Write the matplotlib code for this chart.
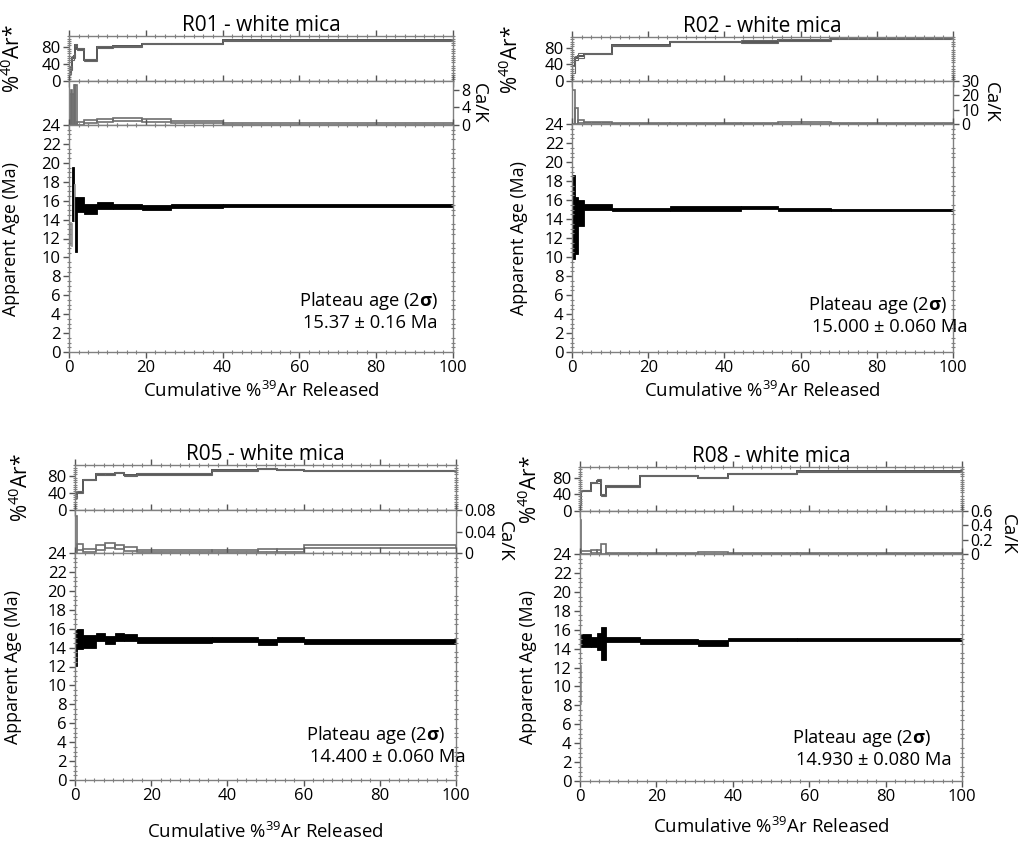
import numpy as np
import matplotlib
matplotlib.use('Agg')
import matplotlib.pyplot as plt
from matplotlib.ticker import MultipleLocator

plt.rcParams['font.family'] = ['Open Sans', 'DejaVu Sans']
plt.rcParams['mathtext.fontset'] = 'custom'
plt.rcParams['mathtext.rm'] = 'Open Sans'
plt.rcParams['mathtext.it'] = 'Open Sans:italic'
plt.rcParams['mathtext.bf'] = 'Open Sans:bold'

# ---- data: step edges (cumulative %39Ar), apparent ages, %40Ar*, Ca/K ----
r01_edges = [0, 0.4, 0.8, 1.2, 1.6, 2.2, 3.9, 7.3, 11.5, 19, 26.5, 40, 100]
r01_age = [12.5, 12.4, 16.7, 15.8, 13.5, 15.6, 15.1, 15.5, 15.35, 15.3, 15.45, 15.5]
r01_age_err = [1.2, 1.2, 2.9, 2.0, 2.9, 0.8, 0.55, 0.4, 0.25, 0.25, 0.2, 0.18]
r01_plat = [0, 0, 1, 0, 1, 1, 1, 1, 1, 1, 1, 1]
r01_ar = [20, 30, 55, 60, 85, 75, 50, 80, 82, 88, 88, 96]
r01_ar_err = [3, 5, 5, 5, 3, 2, 2, 1.5, 1.5, 1.5, 1.5, 1.5]
r01_cak = [3.5, 4.0, 3.5, 4.5, 4.6, 0.4, 0.8, 1.0, 1.2, 1.0, 0.7, 0.2]
r01_cak_err = [3.5, 4.0, 3.5, 4.5, 4.6, 0.3, 0.4, 0.4, 0.4, 0.3, 0.3, 0.15]

r02_edges = [0, 0.9, 1.6, 3.1, 10.5, 25.6, 44.3, 54, 68, 100]
r02_age = [14.2, 13.3, 14.6, 15.25, 15.0, 15.1, 15.2, 15.0, 14.95]
r02_age_err = [4.4, 3.0, 1.35, 0.35, 0.2, 0.22, 0.15, 0.15, 0.12]
r02_plat = [1, 1, 1, 1, 1, 1, 1, 1, 1]
r02_ar = [35, 55, 61, 66, 86, 94.5, 95, 99, 102]
r02_ar_err = [15, 5, 6, 1.5, 1.5, 1.5, 3, 1.5, 1.5]
r02_cak = [12, 5.5, 1.5, 1.0, 0.4, 0.4, 0.4, 0.8, 0.3]
r02_cak_err = [12, 5.5, 1.0, 0.5, 0.3, 0.3, 0.3, 0.6, 0.3]

r05_edges = [0, 0.5, 2.2, 5.6, 8.0, 10.6, 12.9, 16.3, 36, 48, 53, 60, 100]
r05_age = [14.0, 14.9, 14.65, 15.1, 14.8, 15.1, 15.05, 14.8, 14.85, 14.6, 14.85, 14.65]
r05_age_err = [1.9, 1.1, 0.65, 0.4, 0.4, 0.4, 0.35, 0.33, 0.3, 0.3, 0.3, 0.25]
r05_plat = [1, 1, 1, 1, 1, 1, 1, 1, 1, 1, 1, 1]
r05_ar = [31, 43, 71, 84.5, 84.5, 87.5, 82, 85, 93.5, 97, 95, 92.7]
r05_ar_err = [2, 2, 1.5, 1.5, 1.5, 1.5, 1.5, 1.5, 1.5, 1.5, 1.5, 1.5]
r05_cak = [0.034, 0.011, 0.005, 0.010, 0.014, 0.011, 0.008, 0.003, 0.003, 0.0045, 0.0045, 0.012]
r05_cak_err = [0.034, 0.006, 0.003, 0.004, 0.004, 0.004, 0.004, 0.002, 0.002, 0.0035, 0.0035, 0.002]

r08_edges = [0, 0.3, 2.9, 4.4, 5.5, 6.8, 15.6, 30.9, 38.8, 56.7, 100]
r08_age = [10.2, 14.85, 14.7, 14.75, 14.55, 14.95, 14.78, 14.62, 14.95, 14.95]
r08_age_err = [2.1, 0.65, 0.5, 0.95, 1.75, 0.28, 0.25, 0.32, 0.2, 0.18]
r08_plat = [0, 1, 1, 1, 1, 1, 1, 1, 1, 1]
r08_ar = [21, 48.5, 68, 72, 39, 60, 85.5, 80, 90, 95.7]
r08_ar_err = [6, 1.5, 1.5, 4, 3, 1.5, 1.5, 1.5, 1.5, 1.5]
r08_cak = [0.24, 0.02, 0.03, 0.04, 0.07, 0.006, 0.006, 0.012, 0.006, 0.006]
r08_cak_err = [0.24, 0.015, 0.02, 0.02, 0.07, 0.004, 0.004, 0.009, 0.004, 0.004]

titles = ['R01 - white mica', 'R02 - white mica', 'R05 - white mica', 'R08 - white mica']
plateau_text = ['15.37 ± 0.16 Ma', '15.000 ± 0.060 Ma', '14.400 ± 0.060 Ma', '14.930 ± 0.080 Ma']
cak_ticks = [[0, 4, 8], [0, 10, 20, 30], [0, 0.04, 0.08], [0, 0.2, 0.4, 0.6]]
cak_ticklabels = [['0', '4', '8'], ['0', '10', '20', '30'], ['0', '0.04', '0.08'], ['0', '0.2', '0.4', '0.6']]
cak_max = [10, 30, 0.08, 0.6]

W, H = 1023, 844
fig = plt.figure(figsize=(W / 100, H / 100), dpi=100)

# layout in pixels: left, right, top, ar/cak boundary, cak/age boundary, bottom
layouts = [
    (69, 453, 36, 81, 125, 352),
    (572, 953, 37, 81, 124, 352),
    (75, 456, 465, 510, 553, 780),
    (580, 962, 467, 511, 554, 781),
]
# ylabel x positions (axes fraction) for %Ar* and age, Ca/K label (x, y), plateau text (x, y1, y2), xlabel pad
label_pos = [
    (-0.115, -0.128, (1.068, 0.5), (0.60, 0.225, 0.128), 3),
    (-0.129, -0.115, (1.100, 0.5), (0.62, 0.207, 0.110), 3),
    (-0.110, -0.139, (1.128, 0.28), (0.606, 0.198, 0.100), 13),
    (-0.100, -0.113, (1.120, 0.45), (0.555, 0.190, 0.093), 8),
]

GRAY = '#808080'


def px_axes(l, r, t, b):
    return fig.add_axes([l / W, 1 - b / H, (r - l) / W, (b - t) / H])


def style_axis(ax):
    for s in ax.spines.values():
        s.set_color(GRAY)
        s.set_linewidth(1.0)
    ax.tick_params(which='major', direction='out', length=4, width=1, color='#555555',
                   labelsize=12, pad=2)
    ax.tick_params(which='minor', direction='inout', length=3, width=0.8, color=GRAY)
    ax.xaxis.set_major_locator(MultipleLocator(20))
    ax.xaxis.set_minor_locator(MultipleLocator(2.5))
    ax.tick_params(axis='x', which='both', top=True, bottom=True)


samples = [
    (r01_edges, r01_age, r01_age_err, r01_plat, r01_ar, r01_ar_err, r01_cak, r01_cak_err),
    (r02_edges, r02_age, r02_age_err, r02_plat, r02_ar, r02_ar_err, r02_cak, r02_cak_err),
    (r05_edges, r05_age, r05_age_err, r05_plat, r05_ar, r05_ar_err, r05_cak, r05_cak_err),
    (r08_edges, r08_age, r08_age_err, r08_plat, r08_ar, r08_ar_err, r08_cak, r08_cak_err),
]

for i, (edges, age, age_err, plat, ar, ar_err, cak, cak_err) in enumerate(samples):
    l, r, t, m1, m2, b = layouts[i]
    ar_x, age_x, cak_lab, plat_pos, xpad = label_pos[i]
    edges = np.array(edges, dtype=float)
    x0 = edges[:-1]
    wd = np.diff(edges)
    age = np.array(age)
    age_err = np.array(age_err)
    ar = np.array(ar)
    ar_err = np.array(ar_err)
    cak = np.array(cak)
    cak_err = np.array(cak_err)

    ax_ar = px_axes(l, r, t, m1)
    ax_ca = px_axes(l, r, m1, m2)
    ax_age = px_axes(l, r, m2, b)

    # %40Ar* panel
    ax_ar.stairs(ar, edges, baseline=None, color='#555555', lw=1.4)
    ax_ar.bar(x0, 2 * ar_err, bottom=ar - ar_err, width=wd, align='edge',
              fill=False, edgecolor='#666666', lw=0.8)
    ax_ar.set_xlim(0, 100)
    ax_ar.set_ylim(0, 106)
    ax_ar.set_yticks([0, 40, 80])
    ax_ar.yaxis.set_minor_locator(MultipleLocator(5))
    ax_ar.tick_params(axis='y', which='minor', left=True, right=True)
    style_axis(ax_ar)
    ax_ar.tick_params(axis='x', labelbottom=False)
    ax_ar.set_ylabel(r'%$^{40}$Ar*', fontsize=15)
    ax_ar.yaxis.set_label_coords(ar_x, 0.5)
    ax_ar.set_title(titles[i], fontsize=15, pad=3)

    # Ca/K panel
    ax_ca.bar(x0, 2 * cak_err, bottom=cak - cak_err, width=wd, align='edge',
              fill=False, edgecolor='#6e6e6e', lw=1.2)
    ax_ca.set_xlim(0, 100)
    ax_ca.set_ylim(0, cak_max[i])
    style_axis(ax_ca)
    ax_ca.yaxis.tick_right()
    ax_ca.set_yticks(cak_ticks[i])
    ax_ca.set_yticklabels(cak_ticklabels[i])
    ax_ca.tick_params(axis='y', labelsize=11.5, pad=2, left=False, right=True)
    ax_ca.tick_params(axis='x', labelbottom=False)
    ax_ca.text(cak_lab[0], cak_lab[1], 'Ca/K', rotation=270, transform=ax_ca.transAxes,
               ha='center', va='center', fontsize=13.5)

    # apparent age panel
    cols = ['black' if p else '#9a9a9a' for p in plat]
    ax_age.bar(x0, 2 * age_err, bottom=age - age_err, width=wd, align='edge',
               color=cols, edgecolor=cols, lw=0.6)
    ax_age.set_xlim(0, 100)
    ax_age.set_ylim(0, 24)
    ax_age.set_yticks(np.arange(0, 25, 2))
    ax_age.yaxis.set_minor_locator(MultipleLocator(0.5))
    style_axis(ax_age)
    ax_age.tick_params(axis='y', which='minor', left=True, right=True)
    ax_age.set_ylabel('Apparent Age (Ma)', fontsize=12.8)
    ax_age.yaxis.set_label_coords(age_x, 0.5)
    ax_age.set_xlabel(r'Cumulative %$^{39}$Ar Released', fontsize=13.4, labelpad=xpad)

    ax_age.text(plat_pos[0], plat_pos[1], r'Plateau age (2$\mathbf{\sigma}$)',
                transform=ax_age.transAxes, ha='left', va='center', fontsize=13.2)
    ax_age.text(plat_pos[0] + 0.01, plat_pos[2], plateau_text[i],
                transform=ax_age.transAxes, ha='left', va='center', fontsize=13.2)

fig.savefig('out.png', dpi=100)
